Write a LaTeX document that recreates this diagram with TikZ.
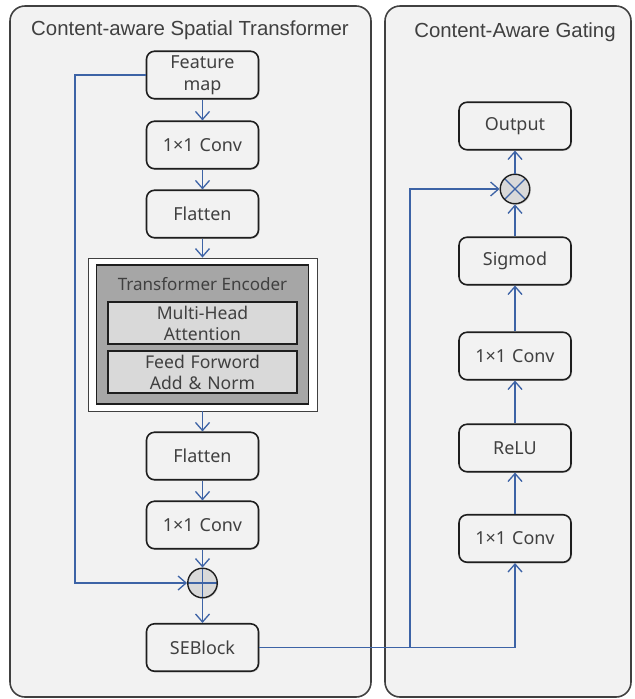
\documentclass[tikz,border=0pt]{standalone}
\usepackage{fontspec}
\setmainfont{Noto Sans}
\newfontfamily\titlefont{Liberation Sans}
\usepackage[dvipsnames]{xcolor}
\usetikzlibrary{shapes,arrows.meta,shadows}

\definecolor{linkblue}{HTML}{3D63A6}
\definecolor{panelfill}{HTML}{F2F2F2}
\definecolor{panelline}{HTML}{404040}
\definecolor{boxline}{HTML}{1E1E1E}
\definecolor{textgray}{HTML}{404040}
\definecolor{encgray}{HTML}{A6A6A6}
\definecolor{subgray}{HTML}{D9D9D9}

\begin{document}
\begin{tikzpicture}[node distance = 1.4cm, auto]
        \tikzstyle{panel} = [rectangle, draw=panelline, fill=panelfill, line width=0.9pt, rounded corners=0.3cm]
        \tikzstyle{heading} = [text=textgray, font=\titlefont\fontsize{11.6}{14}\selectfont]
        \tikzstyle{block} = [rectangle, draw=boxline, fill=panelfill, line width=0.9pt, text width=2.1cm, text centered, rounded corners=0.16cm, minimum width=2.24cm, minimum height=0.95cm, inner sep=0pt, text=textgray, font=\fontsize{10.2}{12.5}\selectfont, drop shadow={opacity=0.3, shadow xshift=0.6pt, shadow yshift=-0.6pt}]
        \tikzstyle{subblock} = [rectangle, draw=boxline, fill=subgray, line width=0.8pt, text width=3.6cm, text centered, minimum width=3.78cm, minimum height=0.84cm, inner sep=0pt, text=textgray, font=\fontsize{10}{12}\selectfont, drop shadow={opacity=0.3, shadow xshift=0.5pt, shadow yshift=-0.5pt}]
        \tikzstyle{junction} = [circle, draw=boxline, fill=subgray, line width=0.8pt, minimum size=0.59cm, inner sep=0pt, drop shadow={opacity=0.3, shadow xshift=0.6pt, shadow yshift=-0.6pt}]
        \tikzstyle{line} = [draw, linkblue, line width=0.75pt, -{Straight Barb[length=1.6mm, width=2.8mm]}]

    \useasboundingbox (0,0) rectangle (12.68,-13.98);

    % the two panels
    \node [panel, minimum width=7.22cm, minimum height=13.82cm] (spatial panel) at (3.81,-7.03) {};
    \node [panel, minimum width=4.92cm, minimum height=13.82cm] (gating panel) at (10.16,-7.03) {};
    \node [heading] (spatial title) at (3.8,-0.6) {Content-aware Spatial Transformer};
    \node [heading] (gating title) at (10.3,-0.64) {Content-Aware Gating};

    % content-aware spatial transformer
    \node [block] (feature map) at (4.05,-1.5) {Feature\\map};
    \node [block, below of=feature map] (conv 1) {1×1 Conv};
    \node [block, below of=conv 1, node distance=1.38cm] (flatten 1) {Flatten};
    \node [rectangle, draw=panelline, fill=white, line width=0.5pt, minimum width=4.58cm, minimum height=3.06cm, below of=flatten 1, node distance=2.41cm, drop shadow={opacity=0.25, shadow xshift=0.6pt, shadow yshift=-0.6pt}] (encoder) {};
    \node [rectangle, draw=boxline, fill=encgray, line width=0.8pt, minimum width=4.24cm, minimum height=2.78cm] (encoder inner) at (encoder) {};
    \node [text=textgray, font=\fontsize{9.7}{12}\selectfont, above of=encoder, node distance=1.01cm] (encoder title) {Transformer Encoder};
    \node [subblock, above of=encoder, node distance=0.23cm] (attention) {Multi-Head\\Attention};
    \node [subblock, below of=encoder, node distance=0.75cm] (feed forward) {Feed Forword\\Add \& Norm};
    \node [block, below of=encoder, node distance=2.43cm] (flatten 2) {Flatten};
    \node [block, below of=flatten 2, node distance=1.38cm] (conv 2) {1×1 Conv};
    \node [junction, below of=conv 2, node distance=1.16cm, path picture={\draw[linkblue, line width=0.75pt] (path picture bounding box.north) -- (path picture bounding box.south) (path picture bounding box.west) -- (path picture bounding box.east);}] (add) {};
    \node [block, below of=add, node distance=1.29cm] (seblock) {SEBlock};
    \coordinate (skip) at (1.5,-6);

    \path [line] (feature map) -- (conv 1);
    \path [line] (conv 1) -- (flatten 1);
    \path [line] (flatten 1) -- (encoder);
    \path [line] (encoder) -- (flatten 2);
    \path [line] (flatten 2) -- (conv 2);
    \path [line] (conv 2) -- (add);
    \path [line] (add) -- (seblock);
    \path [line] (feature map.west) -| (skip) |- (add.west);

    % content-aware gating
    \node [block] (conv 3) at (10.3,-10.77) {1×1 Conv};
    \node [block, above of=conv 3, node distance=1.81cm] (relu) {ReLU};
    \node [block, above of=relu, node distance=1.84cm] (conv 4) {1×1 Conv};
    \node [block, above of=conv 4, node distance=1.9cm] (sigmod) {Sigmod};
    \node [junction, above of=sigmod, node distance=1.44cm, path picture={\draw[linkblue, line width=0.75pt] (path picture bounding box.north west) -- (path picture bounding box.south east) (path picture bounding box.south west) -- (path picture bounding box.north east);}] (multiply) {};
    \node [block, above of=multiply, node distance=1.26cm] (output) {Output};
    \coordinate (split) at (8.2,-12.95);

    \path [line] (seblock) -| (conv 3);
    \path [line] (split) |- (multiply);
    \path [line] (conv 3) -- (relu);
    \path [line] (relu) -- (conv 4);
    \path [line] (conv 4) -- (sigmod);
    \path [line] (sigmod) -- (multiply);
    \path [line] (multiply) -- (output);
    \end{tikzpicture}
\end{document}
